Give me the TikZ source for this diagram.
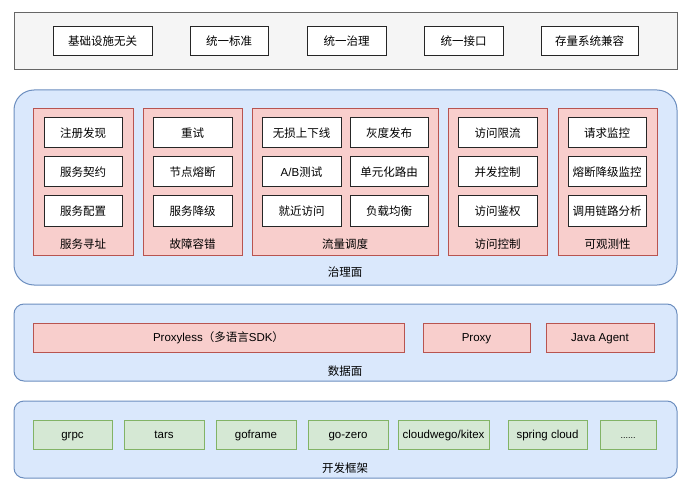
\documentclass[tikz,border=0pt]{standalone}
\usepackage{fontspec}
\setmainfont{Noto Sans CJK SC}
\newfontfamily\lat{Liberation Sans}
\definecolor{barfill}{HTML}{F5F5F5}
\definecolor{bardraw}{HTML}{666666}
\definecolor{planefill}{HTML}{DAE8FC}
\definecolor{planedraw}{HTML}{6C8EBF}
\definecolor{groupfill}{HTML}{F8CECC}
\definecolor{groupdraw}{HTML}{B85450}
\definecolor{fwfill}{HTML}{D5E8D4}
\definecolor{fwdraw}{HTML}{82B366}
\tikzset{
  every node/.style={font=\fontsize{11.5}{13}\selectfont, inner sep=0pt, text height=10pt, text depth=1.5pt},
  bar/.style={draw=bardraw, fill=barfill, line width=1pt, rectangle},
  plane/.style={draw=planedraw, fill=planefill, line width=1pt, rectangle, rounded corners=#1},
  group/.style={draw=groupdraw, fill=groupfill, line width=1pt, rectangle, minimum height=146pt},
  item/.style={draw=black!85, fill=white, line width=1pt, rectangle, minimum height=30pt},
  topitem/.style={item, minimum height=29pt},
  dataitem/.style={draw=groupdraw, fill=groupfill, line width=1pt, rectangle, minimum height=29pt},
  fwitem/.style={draw=fwdraw, fill=fwfill, line width=1pt, rectangle, minimum height=29pt},
}
\begin{document}
\begin{tikzpicture}[x=1pt,y=-1pt]
        \useasboundingbox (0,0) rectangle (692,494);
        % top bar
        \node[bar, minimum width=663pt, minimum height=57pt] (top) at (345.5,41.5) {};
        \node[topitem, minimum width=99pt] (jcss) at (102.5,41.5) {基础设施无关};
        \node[topitem, minimum width=78pt] (tybz) at (229,41.5) {统一标准};
        \node[topitem, minimum width=79pt] (tyzl) at (346.5,41.5) {统一治理};
        \node[topitem, minimum width=79pt] (tyjk) at (463.5,41.5) {统一接口};
        \node[topitem, minimum width=97pt] (clxt) at (589.5,41.5) {存量系统兼容};

        % governance plane
        \node[plane=20pt, minimum width=663pt, minimum height=195pt] (gov) at (345.5,187.5) {};
        \node (govlabel) at (345,272) {治理面};

        \node[group, minimum width=100pt] (addr) at (83,182) {};
        \node[group, minimum width=99pt] (fault) at (192.5,182) {};
        \node[group, minimum width=186pt] (traffic) at (345,182) {};
        \node[group, minimum width=99pt] (access) at (497.5,182) {};
        \node[group, minimum width=99pt] (observe) at (607.5,182) {};

        \node (addrlabel) at (83,244) {服务寻址};
        \node (faultlabel) at (192.5,244) {故障容错};
        \node (trafficlabel) at (345,244) {流量调度};
        \node (accesslabel) at (497.5,244) {访问控制};
        \node (observelabel) at (607.5,244) {可观测性};

        \node[item, minimum width=78pt] (zcfx) at (83,133) {注册发现};
        \node[item, minimum width=78pt] (fwqy) at (83,172) {服务契约};
        \node[item, minimum width=78pt] (fwpz) at (83,211) {服务配置};

        \node[item, minimum width=79pt] (retry) at (192.5,133) {重试};
        \node[item, minimum width=79pt] (jdrd) at (192.5,172) {节点熔断};
        \node[item, minimum width=79pt] (fwjj) at (192.5,211) {服务降级};

        \node[item, minimum width=79pt] (wssx) at (301.5,133) {无损上下线};
        \node[item, minimum width=79pt] (abtest) at (301.5,172) {{\lat A/B}测试};
        \node[item, minimum width=79pt] (jjfw) at (301.5,211) {就近访问};
        \node[item, minimum width=78pt] (hdfb) at (389,133) {灰度发布};
        \node[item, minimum width=78pt] (dyhly) at (389,172) {单元化路由};
        \node[item, minimum width=78pt] (fzjh) at (389,211) {负载均衡};

        \node[item, minimum width=79pt] (fwxl) at (497.5,133) {访问限流};
        \node[item, minimum width=79pt] (bfkz) at (497.5,172) {并发控制};
        \node[item, minimum width=79pt] (fwjq) at (497.5,211) {访问鉴权};

        \node[item, minimum width=78pt] (qqjk) at (607,133) {请求监控};
        \node[item, minimum width=78pt] (rdjk) at (607,172) {熔断降级监控};
        \node[item, minimum width=78pt] (dylfx) at (607,211) {调用链路分析};

        % data plane
        \node[plane=10pt, minimum width=663pt, minimum height=77pt] (data) at (345.5,342.5) {};
        \node (datalabel) at (345,371) {数据面};
        \node[dataitem, minimum width=371pt] (proxyless) at (218.5,337.5) {{\lat Proxyless}（多语言{\lat SDK}）};
        \node[dataitem, minimum width=107pt] (proxy) at (476.5,337.5) {\lat Proxy};
        \node[dataitem, minimum width=108pt] (javaagent) at (600,337.5) {\lat Java Agent};

        % frameworks
        \node[plane=10pt, minimum width=663pt, minimum height=77pt] (fw) at (345.5,439.5) {};
        \node (fwlabel) at (345,468) {开发框架};
        \node[fwitem, minimum width=79pt] (grpc) at (72.5,434.5) {\lat grpc};
        \node[fwitem, minimum width=80pt] (tars) at (164,434.5) {\lat tars};
        \node[fwitem, minimum width=80pt] (goframe) at (256,434.5) {\lat goframe};
        \node[fwitem, minimum width=80pt] (gozero) at (348,434.5) {\lat go-zero};
        \node[fwitem, minimum width=91pt] (kitex) at (443.5,434.5) {\lat cloudwego/kitex};
        \node[fwitem, minimum width=79pt] (spring) at (547.5,434.5) {\lat spring cloud};
        \node[fwitem, minimum width=56pt] (more) at (628,434.5) {\lat\fontsize{9}{11}\selectfont ......};
    \end{tikzpicture}
\end{document}
